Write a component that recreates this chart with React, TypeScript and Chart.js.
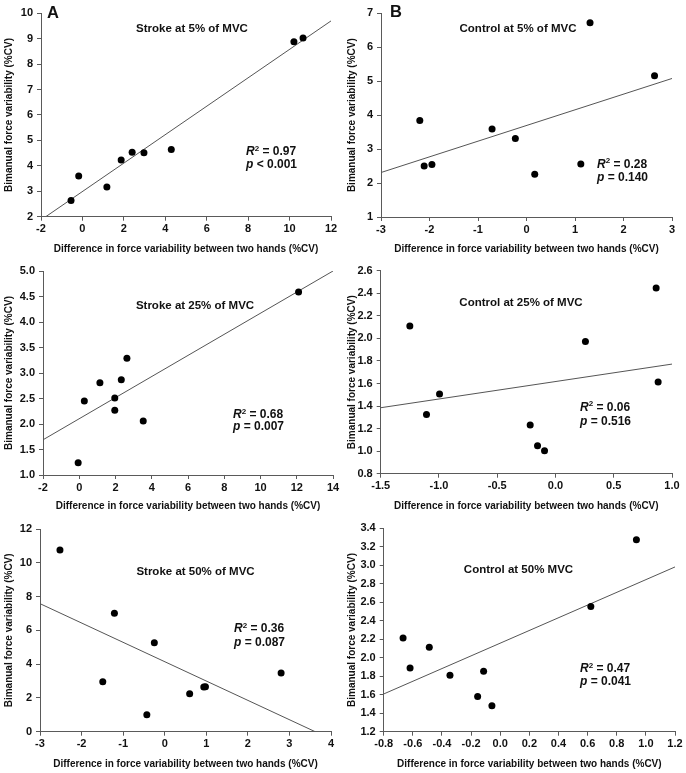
import { useEffect, useRef } from 'react';
import { Chart, registerables } from 'chart.js';

Chart.register(...registerables);

const FONT = "'Liberation Sans', Arial, Helvetica, sans-serif";
const AXIS_COLOR = '#5a5a5a';
const TEXT_COLOR = '#111111';
const FIT_COLOR = '#555555';

const X_TITLE = 'Difference in force variability between two hands (%CV)';
const Y_TITLE = 'Bimanual force variability (%CV)';

// ---------- Panel A: Stroke at 5% of MVC ----------
const strokeFiveDiff = [-0.55, -0.18, 1.18, 1.87, 2.4, 2.97, 4.29, 10.21, 10.65];
const strokeFiveBimanual = [2.64, 3.6, 3.17, 4.23, 4.53, 4.52, 4.64, 8.88, 9.03];
const strokeFiveFitDiff = [-1.77, 12];
const strokeFiveFitBimanual = [2, 9.7];
const strokeFiveXTicks = ['-2', '0', '2', '4', '6', '8', '10', '12'];
const strokeFiveYTicks = ['2', '3', '4', '5', '6', '7', '8', '9', '10'];
const strokeFiveR2 = '0.97';
const strokeFiveP = '< 0.001';

// ---------- Panel B: Control at 5% of MVC ----------
const controlFiveDiff = [-2.2, -2.11, -1.95, -0.71, -0.23, 0.17, 1.12, 1.31, 2.64];
const controlFiveBimanual = [3.84, 2.5, 2.55, 3.59, 3.31, 2.26, 2.56, 6.72, 5.16];
const controlFiveFitDiff = [-3, 3];
const controlFiveFitBimanual = [2.31, 5.08];
const controlFiveXTicks = ['-3', '-2', '-1', '0', '1', '2', '3'];
const controlFiveYTicks = ['1', '2', '3', '4', '5', '6', '7'];
const controlFiveR2 = '0.28';
const controlFiveP = '= 0.140';

// ---------- Panel C: Stroke at 25% of MVC ----------
const strokeTwentyFiveDiff = [-0.06, 0.28, 1.14, 1.96, 1.96, 2.32, 2.63, 3.53, 12.1];
const strokeTwentyFiveBimanual = [1.24, 2.45, 2.81, 2.51, 2.27, 2.87, 3.29, 2.06, 4.59];
const strokeTwentyFiveFitDiff = [-2, 14];
const strokeTwentyFiveFitBimanual = [1.69, 5.0];
const strokeTwentyFiveXTicks = ['-2', '0', '2', '4', '6', '8', '10', '12', '14'];
const strokeTwentyFiveYTicks = ['1.0', '1.5', '2.0', '2.5', '3.0', '3.5', '4.0', '4.5', '5.0'];
const strokeTwentyFiveR2 = '0.68';
const strokeTwentyFiveP = '= 0.007';

// ---------- Panel D: Control at 25% of MVC ----------
const controlTwentyFiveDiff = [-1.25, -1.107, -0.995, -0.217, -0.154, -0.094, 0.257, 0.864, 0.881];
const controlTwentyFiveBimanual = [2.11, 1.326, 1.506, 1.231, 1.048, 1.004, 1.973, 2.446, 1.613];
const controlTwentyFiveFitDiff = [-1.5, 1.0];
const controlTwentyFiveFitBimanual = [1.385, 1.772];
const controlTwentyFiveXTicks = ['-1.5', '-1.0', '-0.5', '0.0', '0.5', '1.0'];
const controlTwentyFiveYTicks = ['0.8', '1.0', '1.2', '1.4', '1.6', '1.8', '2.0', '2.2', '2.4', '2.6'];
const controlTwentyFiveR2 = '0.06';
const controlTwentyFiveP = '= 0.516';

// ---------- Panel E: Stroke at 50% of MVC ----------
const strokeFiftyDiff = [-2.52, -1.49, -1.21, -0.43, -0.25, 0.6, 0.94, 0.98, 2.8];
const strokeFiftyBimanual = [10.76, 2.96, 7.01, 1.0, 5.27, 2.25, 2.64, 2.66, 3.47];
const strokeFiftyFitDiff = [-3, 3.62];
const strokeFiftyFitBimanual = [7.58, 0];
const strokeFiftyXTicks = ['-3', '-2', '-1', '0', '1', '2', '3', '4'];
const strokeFiftyYTicks = ['0', '2', '4', '6', '8', '10', '12'];
const strokeFiftyR2 = '0.36';
const strokeFiftyP = '= 0.087';

// ---------- Panel F: Control at 50% MVC ----------
const controlFiftyDiff = [-0.667, -0.619, -0.487, -0.345, -0.155, -0.114, -0.057, 0.622, 0.935];
const controlFiftyBimanual = [2.214, 1.889, 2.113, 1.81, 1.582, 1.853, 1.482, 2.553, 3.277];
const controlFiftyFitDiff = [-0.8, 1.2];
const controlFiftyFitBimanual = [1.608, 2.982];
const controlFiftyXTicks = ['-0.8', '-0.6', '-0.4', '-0.2', '0.0', '0.2', '0.4', '0.6', '0.8', '1.0', '1.2'];
const controlFiftyYTicks = ['1.2', '1.4', '1.6', '1.8', '2.0', '2.2', '2.4', '2.6', '2.8', '3.0', '3.2', '3.4'];
const controlFiftyR2 = '0.47';
const controlFiftyP = '= 0.041';

type Layout = {
  left: number; top: number; width: number; height: number;
  areaL: number; areaR: number; areaT: number; areaB: number;
  titleX: number; titleY: number;
  statX: number; statY: number; statGap: number;
  letter?: string; letterX?: number; letterY?: number;
};

type Panel = {
  title: string;
  xs: number[]; ys: number[];
  fitX: number[]; fitY: number[];
  xTicks: string[]; yTicks: string[];
  r2: string; p: string;
  layout: Layout;
};

const panels: Panel[] = [
  {
    title: 'Stroke at 5% of MVC',
    xs: strokeFiveDiff, ys: strokeFiveBimanual, fitX: strokeFiveFitDiff, fitY: strokeFiveFitBimanual,
    xTicks: strokeFiveXTicks, yTicks: strokeFiveYTicks, r2: strokeFiveR2, p: strokeFiveP,
    layout: { left: 0, top: 0, width: 343, height: 258, areaL: 41, areaR: 331, areaT: 13.3, areaB: 216.7,
      titleX: 192, titleY: 29, statX: 246, statY: 152, statGap: 12.8, letter: 'A', letterX: 47, letterY: 13 },
  },
  {
    title: 'Control at 5% of MVC',
    xs: controlFiveDiff, ys: controlFiveBimanual, fitX: controlFiveFitDiff, fitY: controlFiveFitBimanual,
    xTicks: controlFiveXTicks, yTicks: controlFiveYTicks, r2: controlFiveR2, p: controlFiveP,
    layout: { left: 343, top: 0, width: 343, height: 258, areaL: 38, areaR: 329, areaT: 13.3, areaB: 217,
      titleX: 175, titleY: 29, statX: 254, statY: 164.5, statGap: 13.5, letter: 'B', letterX: 47, letterY: 12.5 },
  },
  {
    title: 'Stroke at 25% of MVC',
    xs: strokeTwentyFiveDiff, ys: strokeTwentyFiveBimanual, fitX: strokeTwentyFiveFitDiff, fitY: strokeTwentyFiveFitBimanual,
    xTicks: strokeTwentyFiveXTicks, yTicks: strokeTwentyFiveYTicks, r2: strokeTwentyFiveR2, p: strokeTwentyFiveP,
    layout: { left: 0, top: 258, width: 343, height: 257, areaL: 43, areaR: 333, areaT: 13, areaB: 217,
      titleX: 195, titleY: 47.5, statX: 233, statY: 157, statGap: 11.5 },
  },
  {
    title: 'Control at 25% of MVC',
    xs: controlTwentyFiveDiff, ys: controlTwentyFiveBimanual, fitX: controlTwentyFiveFitDiff, fitY: controlTwentyFiveFitBimanual,
    xTicks: controlTwentyFiveXTicks, yTicks: controlTwentyFiveYTicks, r2: controlTwentyFiveR2, p: controlTwentyFiveP,
    layout: { left: 343, top: 258, width: 343, height: 257, areaL: 37.7, areaR: 329, areaT: 12.7, areaB: 215.7,
      titleX: 178, titleY: 45.3, statX: 237, statY: 149.7, statGap: 14 },
  },
  {
    title: 'Stroke at 50% of MVC',
    xs: strokeFiftyDiff, ys: strokeFiftyBimanual, fitX: strokeFiftyFitDiff, fitY: strokeFiftyFitBimanual,
    xTicks: strokeFiftyXTicks, yTicks: strokeFiftyYTicks, r2: strokeFiftyR2, p: strokeFiftyP,
    layout: { left: 0, top: 515, width: 343, height: 258, areaL: 40, areaR: 331, areaT: 14, areaB: 216.7,
      titleX: 195.5, titleY: 57.3, statX: 234, statY: 114, statGap: 14 },
  },
  {
    title: 'Control at 50% MVC',
    xs: controlFiftyDiff, ys: controlFiftyBimanual, fitX: controlFiftyFitDiff, fitY: controlFiftyFitBimanual,
    xTicks: controlFiftyXTicks, yTicks: controlFiftyYTicks, r2: controlFiftyR2, p: controlFiftyP,
    layout: { left: 343, top: 515, width: 343, height: 258, areaL: 40.7, areaR: 332, areaT: 13.3, areaB: 216.7,
      titleX: 175.5, titleY: 55, statX: 237, statY: 154, statGap: 12.7 },
  },
];

const toPoints = (xs: number[], ys: number[]) => xs.map((x, i) => ({ x, y: ys[i] }));

function textPlugin(panel: Panel) {
  return {
    id: 'panelText',
    afterDraw(chart: any) {
      const ctx: CanvasRenderingContext2D = chart.ctx;
      const L = panel.layout;
      ctx.save();
      ctx.fillStyle = TEXT_COLOR;
      ctx.textBaseline = 'middle';
      // panel title
      ctx.textAlign = 'center';
      ctx.font = `bold 11.5px ${FONT}`;
      ctx.fillText(panel.title, L.titleX, L.titleY);
      // letter
      if (L.letter) {
        ctx.textAlign = 'left';
        ctx.font = `bold 16.5px ${FONT}`;
        ctx.fillText(L.letter, L.letterX as number, L.letterY as number);
      }
      // stats
      ctx.textAlign = 'left';
      let x = L.statX;
      const y1 = L.statY;
      ctx.font = `italic bold 12px ${FONT}`;
      ctx.fillText('R', x, y1);
      x += ctx.measureText('R').width;
      ctx.font = `bold 8px ${FONT}`;
      ctx.fillText('2', x, y1 - 3.5);
      x += ctx.measureText('2').width;
      ctx.font = `bold 12px ${FONT}`;
      ctx.fillText(' = ' + panel.r2, x, y1);

      x = L.statX;
      const y2 = L.statY + L.statGap;
      ctx.font = `italic bold 12px ${FONT}`;
      ctx.fillText('p', x, y2);
      x += ctx.measureText('p').width;
      ctx.font = `bold 12px ${FONT}`;
      ctx.fillText(' ' + panel.p, x, y2);
      ctx.restore();
    },
  };
}

function buildChart(canvas: HTMLCanvasElement, panel: Panel) {
  const L = panel.layout;
  const xVals = panel.xTicks.map(Number);
  const yVals = panel.yTicks.map(Number);
  const tickFont = { family: FONT, size: 11, weight: 'bold' as const };
  const titleFont = { family: FONT, size: 10, weight: 'bold' as const };
  return new Chart(canvas, {
    type: 'scatter',
    data: {
      datasets: [
        {
          data: toPoints(panel.xs, panel.ys),
          backgroundColor: '#000000',
          borderColor: '#000000',
          borderWidth: 0,
          pointRadius: 3.5,
          pointHoverRadius: 3.5,
        },
        {
          type: 'line',
          data: toPoints(panel.fitX, panel.fitY),
          showLine: true,
          borderColor: FIT_COLOR,
          borderWidth: 1,
          pointRadius: 0,
          fill: false,
        } as any,
      ],
    },
    options: {
      animation: false,
      responsive: false,
      events: [],
      layout: { padding: { left: 0, top: L.areaT, right: L.width - L.areaR, bottom: 0 } },
      plugins: { legend: { display: false }, tooltip: { enabled: false }, title: { display: false } },
      scales: {
        x: {
          type: 'linear',
          min: xVals[0],
          max: xVals[xVals.length - 1],
          afterBuildTicks: (s: any) => { s.ticks = xVals.map((v) => ({ value: v })); },
          afterFit: (s: any) => { s.height = L.height - L.areaB; },
          ticks: {
            callback: (_v: any, i: number) => panel.xTicks[i],
            font: tickFont,
            color: TEXT_COLOR,
            padding: 2,
            maxRotation: 0,
            autoSkip: false,
          },
          grid: { drawOnChartArea: false, drawTicks: true, tickLength: 4, color: AXIS_COLOR },
          border: { display: true, color: AXIS_COLOR, width: 1 },
          title: { display: true, text: X_TITLE, font: titleFont, color: TEXT_COLOR, padding: { top: 0, bottom: 3 } },
        },
        y: {
          type: 'linear',
          min: yVals[0],
          max: yVals[yVals.length - 1],
          afterBuildTicks: (s: any) => { s.ticks = yVals.map((v) => ({ value: v })); },
          afterFit: (s: any) => { s.width = L.areaL; },
          ticks: {
            callback: (_v: any, i: number) => panel.yTicks[i],
            font: tickFont,
            color: TEXT_COLOR,
            padding: 4,
            autoSkip: false,
          },
          grid: { drawOnChartArea: false, drawTicks: true, tickLength: 4, color: AXIS_COLOR },
          border: { display: true, color: AXIS_COLOR, width: 1 },
          title: { display: true, text: Y_TITLE, font: titleFont, color: TEXT_COLOR, padding: { top: 3.5, bottom: 0 } },
        },
      },
    } as any,
    plugins: [textPlugin(panel)],
  });
}

function PanelChart({ panel }: { panel: Panel }) {
  const ref = useRef<HTMLCanvasElement | null>(null);
  useEffect(() => {
    if (!ref.current) return;
    const chart = buildChart(ref.current, panel);
    return () => chart.destroy();
  }, [panel]);
  const L = panel.layout;
  return (
    <canvas
      ref={ref}
      width={L.width}
      height={L.height}
      style={{ position: 'absolute', left: L.left, top: L.top, width: L.width, height: L.height, display: 'block' }}
    />
  );
}

export default function App() {
  return (
    <div style={{ position: 'absolute', left: 0, top: 0, width: 686, height: 773, background: '#ffffff' }}>
      {panels.map((p) => (
        <PanelChart key={p.title} panel={p} />
      ))}
    </div>
  );
}
